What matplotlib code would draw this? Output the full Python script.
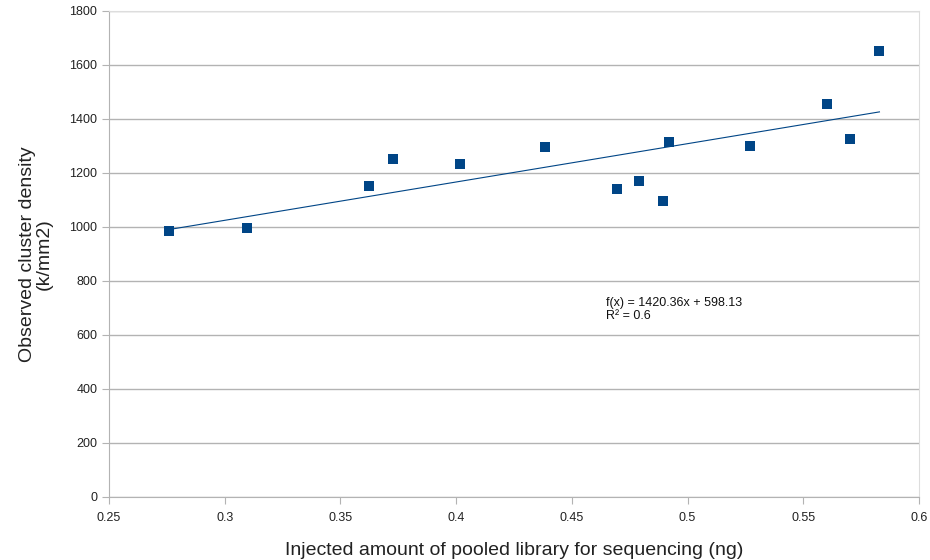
import matplotlib.pyplot as plt
from matplotlib.ticker import FuncFormatter

plt.rcParams['font.family'] = ['Liberation Sans', 'DejaVu Sans']

injected_ng = [0.2759, 0.3096, 0.3625, 0.3729, 0.4017, 0.4386, 0.4694,
               0.4790, 0.4895, 0.4921, 0.5271, 0.5601, 0.5702, 0.5829]
density = [986, 995, 1152, 1252, 1234, 1297, 1139,
           1170, 1096, 1315, 1301, 1454, 1325, 1652]
slope = 1420.36
intercept = 598.13
r_squared = 0.6

blue = '#004586'
grid_gray = '#b3b3b3'

fig = plt.figure(figsize=(9.3, 5.6), dpi=100)
ax = fig.add_axes([0.1172, 0.113, 0.8710, 0.8674])

ax.scatter(injected_ng, density, marker='s', s=52, color=blue, zorder=3, linewidths=0)
xs = [min(injected_ng), max(injected_ng)]
ax.plot(xs, [slope * x + intercept for x in xs], color=blue, linewidth=0.8, zorder=2)

ax.text(0.4648, 695, f"f(x) = {slope}x + {intercept}\nR² = {r_squared}", fontsize=9, va='center',
        ha='left', color='#111111', linespacing=1.1)

ax.set_xlim(0.25, 0.6)
ax.set_ylim(0, 1800)
ax.set_xticks([0.25, 0.3, 0.35, 0.4, 0.45, 0.5, 0.55, 0.6])
ax.set_yticks(range(0, 1801, 200))
ax.xaxis.set_major_formatter(FuncFormatter(lambda v, p: f"{v:g}"))
ax.yaxis.grid(True, color=grid_gray, linewidth=1)
ax.set_axisbelow(True)

for side in ['left', 'bottom']:
    ax.spines[side].set_color(grid_gray)
for side in ['top', 'right']:
    ax.spines[side].set_color('#dddddd')
ax.tick_params(axis='both', colors=grid_gray, labelcolor='#222222', labelsize=9, length=5, direction='out')
ax.tick_params(axis='x', pad=6)

ax.set_xlabel("Injected amount of pooled library for sequencing (ng)", fontsize=14, color='#222222', labelpad=13)
ax.set_ylabel("Observed cluster density\n(k/mm2)", fontsize=14, color='#222222', labelpad=12, linespacing=1.0)

fig.savefig("out.png", dpi=100)
